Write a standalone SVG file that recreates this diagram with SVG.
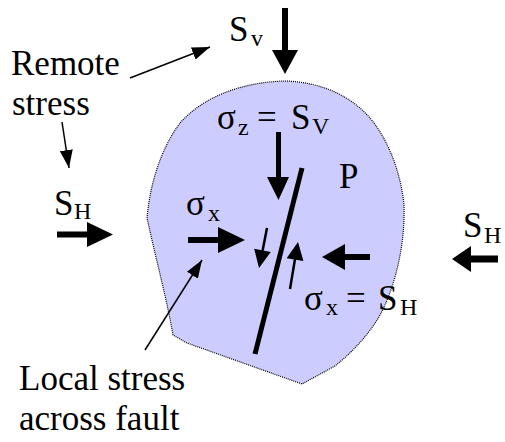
<svg xmlns="http://www.w3.org/2000/svg" width="505" height="442" viewBox="0 0 505 442" font-family="'Liberation Serif', 'DejaVu Serif', serif">
  <style>
    text { font-family: 'Liberation Serif', 'DejaVu Serif', serif; font-size: 35px; fill: #000; }
    .sub { font-size: 24px; }
    .thick { fill: #000; stroke: none; }
    .thin { stroke: #000; stroke-width: 1.5; fill: none; marker-end: url(#head); }
    .blob { fill: #CCCCFF; stroke: #000; stroke-width: 1.2; stroke-dasharray: 1 1; }
  </style>
  <defs>
    <marker id="head" viewBox="0 0 18 13" refX="18" refY="6.5" markerWidth="18" markerHeight="13" markerUnits="userSpaceOnUse" orient="auto">
      <path d="M0,0 L18,6.5 L0,13 Z" fill="#000"/>
    </marker>
  </defs>
  <rect width="505" height="442" fill="#fff"/>

  <g id="rock">
    <path class="blob" d="M285,81 C320,82 350,95 370,118 C390,142 401,175 404,205 C405,240 398,275 385,305 C375,328 355,350 335,366 L302,384 L187,343 L173,335 C167,300 155,255 147,218 C150,185 160,150 180,123 C205,95 245,82 285,81 Z"/>
    <text x="339" y="188">P</text>
  </g>

  <g id="fault">
    <line x1="302" y1="168" x2="255" y2="354" stroke="#000" stroke-width="5"/>
  </g>

  <g id="remote-label">
    <text x="11" y="75">Remote</text>
    <text x="12" y="115">stress</text>
  </g>

  <g id="local-label">
    <text x="19" y="390">Local stress</text>
    <text x="19" y="430">across fault</text>
  </g>

  <g id="sv-top">
    <text x="229" y="41">S</text>
    <text class="sub" x="251" y="46">v</text>
    <path class="thick" d="M282,8 H288 V50 H298 L285,74 L272,50 H282 Z"/>
  </g>

  <g id="sh-left">
    <text x="54" y="215">S</text>
    <text class="sub" x="74" y="219">H</text>
    <path class="thick" d="M57,231.5 H87 V222 L113,234.5 L87,247 V237.5 H57 Z"/>
  </g>

  <g id="sh-right">
    <text x="463" y="237">S</text>
    <text class="sub" x="484" y="243">H</text>
    <path class="thick" d="M498,255.5 H471 V246 L452,259 L471,272 V262.5 H498 Z"/>
  </g>

  <g id="sigma-z">
    <text x="217" y="129">σ</text>
    <text class="sub" x="238" y="135">z</text>
    <text x="257" y="129">=</text>
    <text x="291" y="129">S</text>
    <text class="sub" x="312" y="134">V</text>
    <path class="thick" d="M276,132 H281 V177 H289 L278.5,200 L267,177 H276 Z"/>
  </g>

  <g id="sigma-x-left">
    <text x="186" y="215">σ</text>
    <text class="sub" x="208" y="221">x</text>
    <path class="thick" d="M188,237 H218 V227 L245,240 L218,253 V243 H188 Z"/>
  </g>

  <g id="sigma-x-right">
    <text x="304" y="310">σ</text>
    <text class="sub" x="326" y="315">x</text>
    <text x="346" y="310">=</text>
    <text x="378" y="310">S</text>
    <text class="sub" x="400" y="315">H</text>
    <path class="thick" d="M370,254 H345 V244 L322,257 L345,270 V260 H370 Z"/>
  </g>

  <g id="slip-arrows">
    <line x1="267" y1="228" x2="262.5" y2="251" stroke="#000" stroke-width="2.5"/>
    <path class="thick" d="M270.8,252.1 L259,268 L254.2,248.7 Z"/>
    <line x1="290" y1="289" x2="295" y2="259" stroke="#000" stroke-width="2.5"/>
    <path class="thick" d="M303.4,261.1 L298,242 L286.6,258.3 Z"/>
  </g>

  <g id="connectors">
    <line class="thin" x1="130" y1="78" x2="210" y2="47"/>
    <line class="thin" x1="62" y1="122" x2="69" y2="168"/>
    <line class="thin" x1="145" y1="350" x2="202" y2="260"/>
  </g>
</svg>
